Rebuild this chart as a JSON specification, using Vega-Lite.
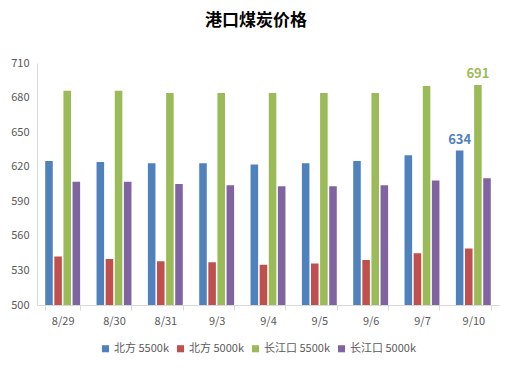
{
  "$schema": "https://vega.github.io/schema/vega-lite/v6.json",
  "width": 462,
  "height": 242,
  "autosize": {"type": "none"},
  "padding": {"left": 37, "top": 63, "right": 13, "bottom": 65},
  "background": "white",
  "title": {"text": "港口煤炭价格", "fontSize": 17, "font": "Noto Sans CJK SC", "fontWeight": "bold", "color": "#000000", "offset": 27, "dx": -12, "anchor": "middle"},
  "data": {"values": [
    {"date": "8/29", "series": "北方 5500k", "price": 625},
    {"date": "8/29", "series": "北方 5000k", "price": 542},
    {"date": "8/29", "series": "长江口 5500k", "price": 686},
    {"date": "8/29", "series": "长江口 5000k", "price": 607},
    {"date": "8/30", "series": "北方 5500k", "price": 624},
    {"date": "8/30", "series": "北方 5000k", "price": 540},
    {"date": "8/30", "series": "长江口 5500k", "price": 686},
    {"date": "8/30", "series": "长江口 5000k", "price": 607},
    {"date": "8/31", "series": "北方 5500k", "price": 623},
    {"date": "8/31", "series": "北方 5000k", "price": 538},
    {"date": "8/31", "series": "长江口 5500k", "price": 684},
    {"date": "8/31", "series": "长江口 5000k", "price": 605},
    {"date": "9/3", "series": "北方 5500k", "price": 623},
    {"date": "9/3", "series": "北方 5000k", "price": 537},
    {"date": "9/3", "series": "长江口 5500k", "price": 684},
    {"date": "9/3", "series": "长江口 5000k", "price": 604},
    {"date": "9/4", "series": "北方 5500k", "price": 622},
    {"date": "9/4", "series": "北方 5000k", "price": 535},
    {"date": "9/4", "series": "长江口 5500k", "price": 684},
    {"date": "9/4", "series": "长江口 5000k", "price": 603},
    {"date": "9/5", "series": "北方 5500k", "price": 623},
    {"date": "9/5", "series": "北方 5000k", "price": 536},
    {"date": "9/5", "series": "长江口 5500k", "price": 684},
    {"date": "9/5", "series": "长江口 5000k", "price": 603},
    {"date": "9/6", "series": "北方 5500k", "price": 625},
    {"date": "9/6", "series": "北方 5000k", "price": 539},
    {"date": "9/6", "series": "长江口 5500k", "price": 684},
    {"date": "9/6", "series": "长江口 5000k", "price": 604},
    {"date": "9/7", "series": "北方 5500k", "price": 630},
    {"date": "9/7", "series": "北方 5000k", "price": 545},
    {"date": "9/7", "series": "长江口 5500k", "price": 690},
    {"date": "9/7", "series": "长江口 5000k", "price": 608},
    {"date": "9/10", "series": "北方 5500k", "price": 634},
    {"date": "9/10", "series": "北方 5000k", "price": 549},
    {"date": "9/10", "series": "长江口 5500k", "price": 691},
    {"date": "9/10", "series": "长江口 5000k", "price": 610}
  ]},
  "encoding": {
    "x": {
      "field": "date", "type": "nominal", "sort": null,
      "scale": {"paddingInner": 0.32, "paddingOuter": 0.16},
      "axis": {"title": null, "labelAngle": 0, "domainColor": "#D9D9D9", "tickColor": "#D9D9D9", "tickBand": "extent", "tickSize": 5, "labelPadding": 5, "labelColor": "#595959", "labelFontSize": 11, "grid": false}
    },
    "xOffset": {
      "field": "series", "type": "nominal",
      "sort": ["北方 5500k", "北方 5000k", "长江口 5500k", "长江口 5000k"],
      "scale": {"paddingInner": 0.17}
    },
    "y": {
      "field": "price", "type": "quantitative",
      "scale": {"domain": [500, 710], "nice": false, "zero": false},
      "axis": {"title": null, "values": [500, 530, 560, 590, 620, 650, 680, 710], "domainColor": "#D9D9D9", "ticks": false, "labelPadding": 8, "grid": false, "labelColor": "#595959", "labelFontSize": 11}
    },
    "color": {
      "field": "series", "type": "nominal",
      "sort": ["北方 5500k", "北方 5000k", "长江口 5500k", "长江口 5000k"],
      "scale": {"domain": ["北方 5500k", "北方 5000k", "长江口 5500k", "长江口 5000k"], "range": ["#4F81BD", "#C0504D", "#9BBB59", "#8064A2"]},
      "legend": {"title": null, "orient": "none", "legendX": 63, "legendY": 280, "direction": "horizontal", "symbolType": "square", "symbolSize": 50, "labelFontSize": 11, "labelColor": "#595959", "columnPadding": 6, "symbolOffset": 0, "labelOffset": 3}
    }
  },
  "layer": [
    {"mark": {"type": "bar", "clip": true}},
    {
      "transform": [{"filter": "datum.date == '9/10' && (datum.series == '北方 5500k' || datum.series == '长江口 5500k')"}],
      "mark": {"type": "text", "baseline": "bottom", "dy": -4, "fontWeight": "bold", "fontSize": 13},
      "encoding": {"text": {"field": "price", "type": "quantitative"}}
    }
  ],
  "config": {"view": {"stroke": null}, "font": "Noto Sans CJK SC"}
}
